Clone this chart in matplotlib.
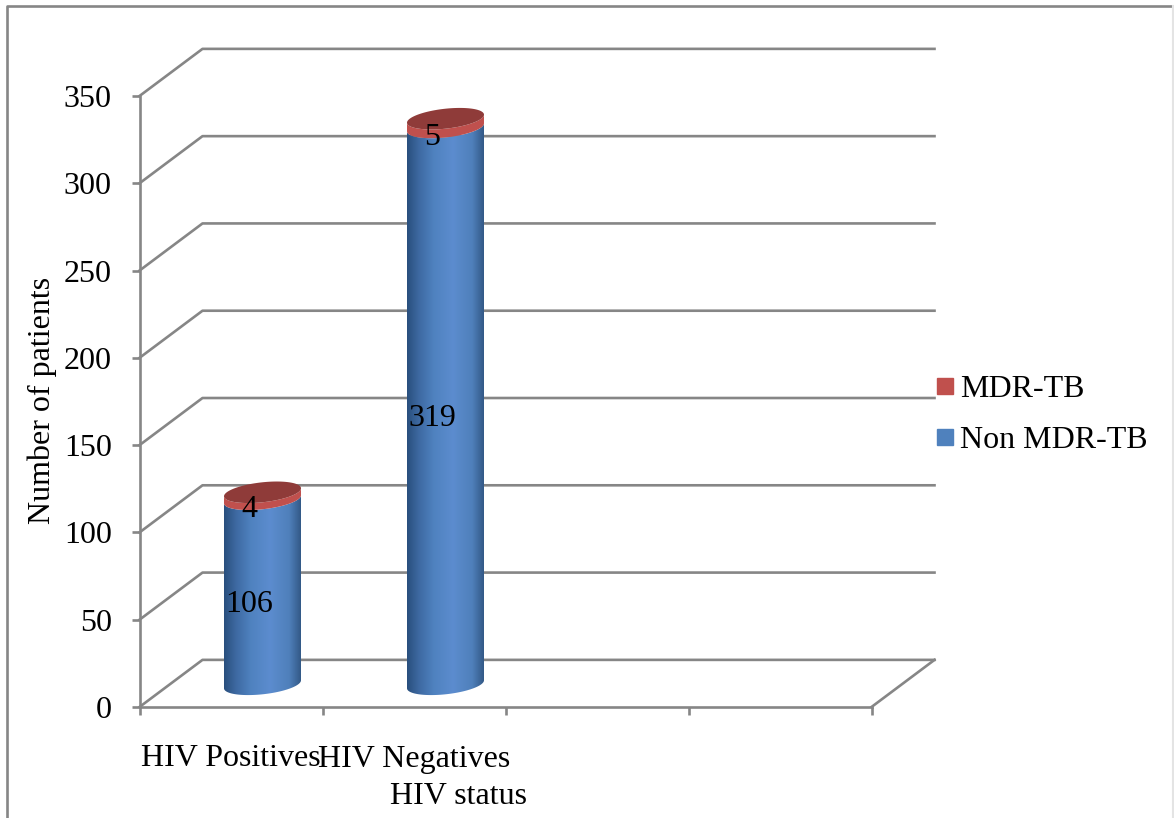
import numpy as np
import matplotlib
matplotlib.use("Agg")
import matplotlib.pyplot as plt
from matplotlib.lines import Line2D
from matplotlib.patches import Polygon

plt.rcParams['font.family'] = ['Liberation Serif', 'DejaVu Serif']

# Data
categories = ['HIV Positives', 'HIV Negatives', '', '']
non_mdr = [106, 319]
mdr = [4, 5]
y_ticks = [0, 50, 100, 150, 200, 250, 300, 350]

GRAY = '#868686'
FS = 23
W, H = 1174, 818
X0, X1, Y0, Y1 = 139.5, 871.5, 707, 96  # front plane, in pixels

fig = plt.figure(figsize=(W / 100, H / 100), dpi=100)
ax = fig.add_axes([X0 / W, 1 - Y0 / H, (X1 - X0) / W, (Y0 - Y1) / H])
ax.set_xlim(0, 4)
ax.set_ylim(0, 350)

# depth of the fake 3D box, in data units
dx = 63 / 183
dy = 27
px_x = 4 / (X1 - X0)
px_y = 350 / (Y0 - Y1)

# walls
for v in y_ticks:
    ax.plot([0, dx, 4 + dx], [v, v + dy, v + dy], color=GRAY, lw=1.9, clip_on=False, zorder=1,
            solid_joinstyle='round')
ax.plot([4, 4 + dx], [0, dy], color=GRAY, lw=1.9, clip_on=False, zorder=1)

# colour ramp across a cylinder
blue_ramp = np.array([[0.16, 0.31, 0.49], [0.24, 0.41, 0.63], [0.31, 0.51, 0.75], [0.36, 0.55, 0.81],
                      [0.31, 0.50, 0.73], [0.20, 0.35, 0.53]])
pos = np.linspace(0, 1, 200)
ramp = np.stack([np.interp(pos, [0, 0.15, 0.35, 0.6, 0.85, 1], blue_ramp[:, i]) for i in range(3)], axis=1)[None, :, :]


def rim(cx, val, t):
    # tilted ellipse of the cylinder section
    a = 38.5 * px_x
    b = 10 * px_y
    k = 4 * px_y
    return np.column_stack([cx + a * np.cos(t), val + dy / 2 - 0.5 + b * np.sin(t) + k * np.cos(t)])


lower = np.linspace(np.pi, 2 * np.pi, 60)
whole = np.linspace(0, 2 * np.pi, 120)

for i in range(len(non_mdr)):
    cx = i + 0.5 + dx / 2
    top = non_mdr[i]
    total = non_mdr[i] + mdr[i]

    # blue body with gradient
    body = np.vstack([rim(cx, 0, lower), rim(cx, top, lower[::-1])])
    patch = Polygon(body, closed=True, transform=ax.transData, facecolor='none', edgecolor='none')
    ax.add_patch(patch)
    a = 38.5 * px_x
    im = ax.imshow(ramp, extent=[cx - a, cx + a, -5, 350 + dy], aspect='auto', zorder=3, clip_on=True)
    im.set_clip_path(patch)

    # red band and cap
    band = np.vstack([rim(cx, top, lower), rim(cx, total, lower[::-1])])
    ax.add_patch(Polygon(band, closed=True, facecolor='#c0504d', edgecolor='none', zorder=4, clip_on=False))
    ax.add_patch(Polygon(rim(cx, total, whole), closed=True, facecolor='#8f3b39', edgecolor='none', zorder=5,
                         clip_on=False))

    # value labels
    ax.text(i + 0.6, top / 2 + 5.5, str(top), fontsize=FS, ha='center', va='center', zorder=6)
    ax.text(i + 0.6, top + mdr[i] / 2 + 5, str(mdr[i]), fontsize=FS, ha='center', va='center', zorder=6)

ax.set_xlim(0, 4)
ax.set_ylim(0, 350)

# axes
for side in ['top', 'right']:
    ax.spines[side].set_visible(False)
for side in ['left', 'bottom']:
    ax.spines[side].set_color(GRAY)
    ax.spines[side].set_linewidth(1.9)
ax.set_xticks([0, 1, 2, 3, 4])
ax.set_xticklabels([])
ax.set_xticks([0.5, 1.5, 2.5, 3.5], categories, minor=True)
ax.tick_params(axis='x', which='major', length=6, width=1.9, color=GRAY)
ax.tick_params(axis='x', which='minor', length=0, pad=27, labelsize=FS)
ax.set_yticks(y_ticks)
ax.tick_params(axis='y', length=6, width=1.9, color=GRAY, labelsize=FS, pad=14)

ax.set_ylabel('Number of patients', fontsize=FS)
ax.yaxis.set_label_coords((57 - X0) / (X1 - X0), (Y0 - 400) / (Y0 - Y1))
ax.set_xlabel('HIV status', fontsize=FS)
ax.xaxis.set_label_coords((458 - X0) / (X1 - X0), (Y0 - 797) / (Y0 - Y1))
ax.xaxis.label.set_verticalalignment('center')

# legend
handles = [Line2D([], [], linestyle='none', marker='s', markersize=11.5, color='#c0504d'),
           Line2D([], [], linestyle='none', marker='s', markersize=11.5, color='#4f81bd')]
fig.legend(handles, ['MDR-TB', 'Non MDR-TB'], loc='center left', bbox_to_anchor=(929 / W, 1 - 415 / H),
           frameon=False, fontsize=FS, handlelength=1, handletextpad=-0.03, labelspacing=0.68, borderpad=0,
           borderaxespad=0)

# outer frame of the chart, right side is only a faint line
fig.add_artist(Line2D([7 / W, 7 / W, 1172 / W], [0, 1 - 6 / H, 1 - 6 / H], color=GRAY, lw=1.9))
fig.add_artist(Line2D([1172.5 / W, 1172.5 / W], [0, 1 - 6 / H], color='#e4e4e4', lw=1.5))

fig.savefig('out.png', dpi=100)
